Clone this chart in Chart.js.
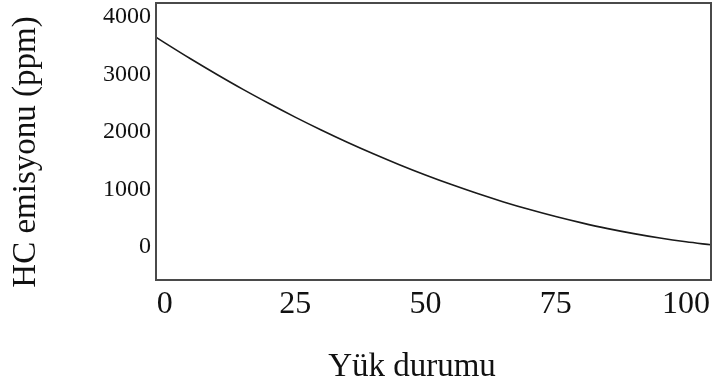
<!DOCTYPE html>
<html>
<head>
<meta charset="utf-8">
<title>HC emisyonu</title>
<script src="https://cdn.jsdelivr.net/npm/chart.js@4/dist/chart.umd.min.js"></script>
<style>
  html, body { margin: 0; padding: 0; background: #ffffff; }
  #wrap { position: relative; width: 715px; height: 391px; }
</style>
</head>
<body>
<div id="wrap"><canvas id="chart" width="715" height="391"></canvas></div>
<script>
// Load level (%) and HC emission (ppm) along the curve
const loadLevels = [-1.7, 0, 5, 10, 15, 20, 25, 30, 35, 40, 45, 50, 55, 60, 65, 70, 75, 80, 85, 90, 95, 100, 104.8];
const hcEmission = [3648, 3550, 3269, 3000, 2741, 2495, 2259, 2035, 1822, 1621, 1431, 1252, 1085, 929, 784, 651, 529, 419, 319, 232, 155, 90, 38];

const xTickValues = [0, 25, 50, 75, 100];
const yTickValues = [0, 1000, 2000, 3000, 4000];

const xTitle = 'Yük durumu';
const yTitle = 'HC emisyonu (ppm)';

const serif = '"Liberation Serif", "DejaVu Serif", serif';
const ink = '#111111';

const points = loadLevels.map((x, i) => ({ x: x, y: hcEmission[i] }));

// White background, frame around the plot area and the two axis titles
const framePlugin = {
  id: 'frame',
  beforeDraw(chart) {
    const ctx = chart.ctx;
    ctx.save();
    ctx.fillStyle = '#ffffff';
    ctx.fillRect(0, 0, chart.width, chart.height);
    ctx.restore();
  },
  afterDraw(chart) {
    const ctx = chart.ctx;
    const a = chart.chartArea;
    ctx.save();
    ctx.strokeStyle = '#4a4a4a';
    ctx.lineWidth = 2;
    ctx.strokeRect(a.left, a.top, a.right - a.left, a.bottom - a.top);

    ctx.fillStyle = ink;
    ctx.textAlign = 'center';
    ctx.textBaseline = 'middle';
    ctx.font = '33px ' + serif;
    ctx.fillText(xTitle, 412, 367);

    ctx.translate(26, 152);
    ctx.rotate(-Math.PI / 2);
    ctx.font = '33px ' + serif;
    ctx.fillText(yTitle, 0, 0);
    ctx.restore();
  }
};

const plainNumber = v => String(v);

new Chart(document.getElementById('chart'), {
  type: 'scatter',
  data: {
    datasets: [{
      data: points,
      showLine: true,
      borderColor: '#1a1a1a',
      borderWidth: 1.6,
      pointRadius: 0,
      cubicInterpolationMode: 'monotone',
      fill: false
    }]
  },
  options: {
    responsive: false,
    animation: false,
    events: [],
    layout: { padding: { top: 3, right: 4, left: 0, bottom: 0 } },
    plugins: {
      legend: { display: false },
      tooltip: { enabled: false }
    },
    scales: {
      x: {
        type: 'linear',
        min: -1.7,
        max: 104.8,
        grid: { display: false, drawTicks: false },
        border: { display: false },
        afterBuildTicks(scale) { scale.ticks = xTickValues.map(v => ({ value: v })); },
        afterFit(scale) {
          scale.height = 111;
          scale.paddingLeft = 0;
          scale.paddingRight = 0;
        },
        ticks: {
          color: ink,
          padding: 5,
          maxRotation: 0,
          autoSkip: false,
          callback: plainNumber,
          font: { family: serif, size: 32 }
        }
      },
      y: {
        type: 'linear',
        min: -574,
        max: 4243,
        grid: { display: false, drawTicks: false },
        border: { display: false },
        afterBuildTicks(scale) { scale.ticks = yTickValues.map(v => ({ value: v })); },
        afterFit(scale) {
          scale.width = 156;
          scale.paddingTop = 0;
          scale.paddingBottom = 0;
        },
        ticks: {
          color: ink,
          padding: 5,
          autoSkip: false,
          callback: plainNumber,
          font: { family: serif, size: 24 }
        }
      }
    }
  },
  plugins: [framePlugin]
});
</script>
</body>
</html>
